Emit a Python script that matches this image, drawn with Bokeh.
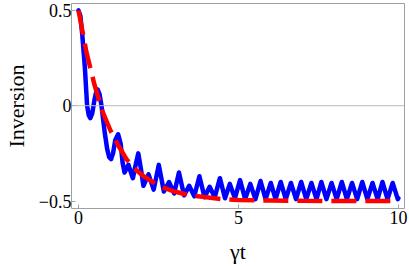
from bokeh.plotting import figure
from bokeh.models import Range1d, FixedTicker, Span
from bokeh.embed import file_html
from bokeh.resources import INLINE

# Blue curve: inversion (extrema and shape points)
blue_t = [0.00, 0.06, 0.12, 0.20, 0.27, 0.32, 0.37, 0.43, 0.50, 0.55, 0.60, 0.66, 0.72,
          0.82, 0.90, 0.96, 1.02, 1.08, 1.15, 1.24, 1.32, 1.38, 1.44, 1.56, 1.70, 1.80,
          1.87, 1.95, 2.03, 2.19, 2.35, 2.51, 2.67, 2.83, 2.99, 3.14, 3.30, 3.46, 3.62,
          3.78, 3.94, 4.10, 4.26, 4.42, 4.58, 4.73, 4.89, 5.05, 5.21, 5.37, 5.53, 5.69,
          5.85, 6.01, 6.16, 6.32, 6.48, 6.64, 6.80, 6.96, 7.12, 7.28, 7.44, 7.59, 7.75,
          7.91, 8.07, 8.23, 8.39, 8.55, 8.71, 8.87, 9.03, 9.19, 9.35, 9.50, 9.66, 9.82,
          9.98, 10.00]
blue_y = [0.50, 0.47, 0.37, 0.20, 0.00, -0.05, -0.065, -0.04, 0.03, 0.07, 0.085, 0.06, 0.00,
          -0.14, -0.23, -0.27, -0.28, -0.25, -0.18, -0.15, -0.20, -0.30, -0.35, -0.31, -0.38, -0.30,
          -0.25, -0.33, -0.42, -0.36, -0.44, -0.31, -0.45, -0.40, -0.46, -0.35, -0.47, -0.42, -0.475,
          -0.37, -0.48, -0.425, -0.48, -0.38, -0.485, -0.41, -0.485, -0.39, -0.49, -0.41, -0.49, -0.395,
          -0.49, -0.405, -0.49, -0.40, -0.49, -0.405, -0.49, -0.40, -0.49, -0.405, -0.49, -0.40, -0.49,
          -0.405, -0.49, -0.40, -0.49, -0.405, -0.49, -0.40, -0.49, -0.405, -0.49, -0.40, -0.49, -0.405,
          -0.49, -0.485]

# Red dashed curve: decay of the mean inversion
red_t = [0, 0.25, 0.5, 0.75, 1.0, 1.25, 1.5, 1.75, 2.0, 2.5, 3.0, 3.5, 4.0, 4.5, 5.0,
         6.0, 7.0, 8.0, 9.0, 10.0]
red_y = [0.50, 0.28, 0.11, -0.03, -0.13, -0.21, -0.28, -0.33, -0.365, -0.42, -0.45, -0.47,
         -0.48, -0.49, -0.495, -0.497, -0.499, -0.50, -0.50, -0.50]

x_ticks = [0, 5, 10]
y_ticks = [-0.5, 0, 0.5]
y_tick_labels = {-0.5: "\u22120.5", 0: "0", 0.5: "0.5"}
x_label = "\u03b3t"
y_label = "Inversion"

FONT = "Liberation Serif"

p = figure(width=409, height=266, output_backend="svg", toolbar_location=None,
           x_range=Range1d(-0.218, 10.19), y_range=Range1d(-0.539, 0.536),
           min_border_left=70, min_border_right=5, min_border_top=3, min_border_bottom=56)

p.xgrid.visible = False
p.ygrid.visible = False
p.outline_line_color = "#a0a0a0"
p.outline_line_width = 1
p.background_fill_color = "white"
p.border_fill_color = "white"

p.add_layout(Span(location=0, dimension="width", line_color="#b8b8b8", line_width=1))

p.line(blue_t, blue_y, line_color="#0000ff", line_width=4.5, line_join="round", line_cap="round")
p.line(red_t, red_y, line_color="#ff0000", line_width=4.5, line_dash="25 9")

for ax in (p.xaxis[0], p.yaxis[0]):
    ax.axis_line_color = None
    ax.major_tick_in = 4
    ax.major_tick_out = 0
    ax.minor_tick_in = 0
    ax.minor_tick_out = 0
    ax.major_tick_line_color = "#a0a0a0"
    ax.major_label_text_font = FONT
    ax.major_label_text_font_size = "18px"
    ax.major_label_text_color = "black"
    ax.axis_label_text_font = FONT
    ax.axis_label_text_font_size = "22px"
    ax.axis_label_text_font_style = "normal"
    ax.axis_label_text_color = "black"

p.xaxis.ticker = FixedTicker(ticks=x_ticks)
p.yaxis.ticker = FixedTicker(ticks=y_ticks)
p.yaxis.major_label_overrides = y_tick_labels
p.xaxis.axis_label = x_label
p.yaxis.axis_label = y_label
p.xaxis.major_label_standoff = 2
p.yaxis.major_label_standoff = 0
p.xaxis.axis_label_standoff = 12
p.yaxis.axis_label_standoff = 7

open("out.html", "w").write(file_html(p, INLINE))
